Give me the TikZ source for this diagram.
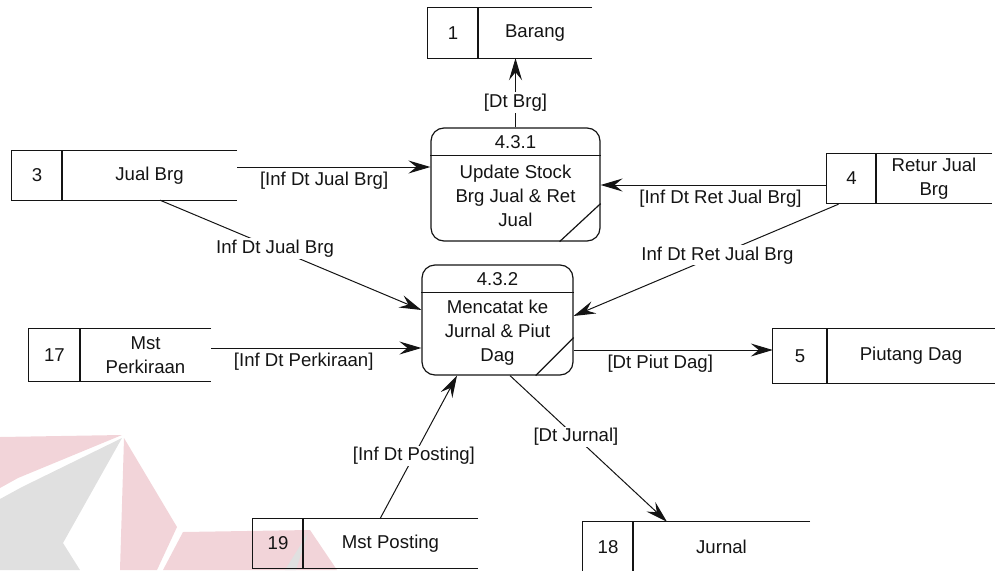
\documentclass[tikz,border=0pt]{standalone}
\usepackage{fontspec}
\setmainfont{Liberation Sans}
\usetikzlibrary{arrows.meta,calc}

\definecolor{wmpink}{RGB}{242,212,217}
\definecolor{wmgray}{RGB}{224,224,224}
\definecolor{ink}{RGB}{20,20,20}

\tikzset{
  every node/.style={font=\fontsize{18.6}{24}\selectfont, text=ink},
  shapeline/.style={draw=ink, line width=1.2pt},
  proc/.style={shapeline, rounded corners=13pt, inner sep=0pt},
  flow/.style={draw=ink, line width=1pt, -{Stealth[length=22pt,width=13pt,inset=8pt]}},
  flowlabel/.style={fill=white, inner sep=1.5pt},
  storearea/.style={inner sep=0pt, draw=none},
}

% data store: name, x-left, x-divider, x-right, y-top, y-bottom, number, label
\newcommand\datastore[8]{%
  \node[storearea, minimum width={(#4)-(#2)}, minimum height={(#6)-(#5)}]
    (#1) at ({((#2)+(#4))/2},{((#5)+(#6))/2}) {};
  \draw[shapeline] (#1.north east) -- (#1.north west) -- (#1.south west) -- (#1.south east);
  \draw[shapeline] (#3,#5) -- (#3,#6);
  \node (#1-num) at ({((#2)+(#3))/2},{((#5)+(#6))/2}) {#7};
  \node[align=center] (#1-name) at ({((#3)+(#4))/2},{((#5)+(#6))/2}) {#8};
}

\begin{document}
\begin{tikzpicture}[x=1pt,y=-1pt]
\useasboundingbox (0,0) rectangle (995,570);

% faint logo in the lower left corner
\fill[wmpink] (0,437) -- (122,435) -- (18,478) -- (0,488) -- cycle;
\fill[wmgray] (122,438) -- (22,487) -- (0,499) -- (0,570) -- (80,570) -- (63,543) -- cycle;
\fill[wmpink] (124,438) -- (177,527) -- (157,570) -- (120,570) -- cycle;
\fill[wmpink] (183,532) -- (310,530) -- (337,570) -- (163,570) -- cycle;
\fill[wmgray] (308,533) -- (296,570) -- (285,570) -- cycle;

% data stores
\datastore{barang}{428}{478}{592}{8}{58}{1}{Barang}
\datastore{jual}{12}{62}{237}{151}{200}{3}{Jual Brg}
\datastore{retur}{827}{876}{992}{154}{203}{4}{Retur Jual\\Brg}
\datastore{perk}{29}{80}{211}{329}{381}{17}{Mst\\Perkiraan}
\datastore{piutang}{773}{827}{995}{329}{383}{5}{Piutang Dag}
\datastore{posting}{253}{303}{478}{519}{568}{19}{Mst Posting}
\datastore{jurnal}{583}{633}{810}{522}{572}{18}{Jurnal}

% process 4.3.1
\node[proc, minimum width=169pt, minimum height=113pt] (p1) at (515.5,184.5) {};
\draw[shapeline] ([yshift=-28pt]p1.north west) -- ([yshift=-28pt]p1.north east);
\draw[shapeline] ([xshift=-41pt]p1.south east) -- ([yshift=38pt]p1.south east);
\node (p1-id) at (515.5,142) {4.3.1};
\node[align=center] (p1-name) at (515.5,196) {Update Stock\\Brg Jual \& Ret\\Jual};

% process 4.3.2
\node[proc, minimum width=151pt, minimum height=110pt] (p2) at (497.5,320) {};
\draw[shapeline] ([yshift=-28pt]p2.north west) -- ([yshift=-28pt]p2.north east);
\draw[shapeline] ([xshift=-38pt]p2.south east) -- ([yshift=38pt]p2.south east);
\node (p2-id) at (497.5,279) {4.3.2};
\node[align=center] (p2-name) at (497.5,333) {Mencatat ke\\Jurnal \& Piut\\Dag};

% data flows
\draw[flow] (p1.north) -- (p1.north |- barang.south)
  node[flowlabel, pos=0.36] {[Dt Brg]};

\coordinate (j1) at ([yshift=8.5pt]jual.east);
\draw[flow] (j1) -- (j1 -| p1.west)
  node[pos=0.45, below=1pt] {[Inf Dt Jual Brg]};

\coordinate (r1) at ([yshift=-6.5pt]retur.west);
\draw[flow] (r1) -- (r1 -| p1.east)
  node[pos=0.47, below=1pt] {[Inf Dt Ret Jual Brg]};

\draw[flow] ([xshift=35.5pt]jual.south) -- ([yshift=10pt]p2.west)
  node[flowlabel, pos=0.44] {Inf Dt Jual Brg};

\draw[flow] ([xshift=-71pt,yshift=-1pt]retur.south) -- ([yshift=4pt]p2.east)
  node[flowlabel, pos=0.457] {Inf Dt Ret Jual Brg};

\coordinate (k1) at ([yshift=7pt]perk.east);
\draw[flow] (k1) -- (k1 -| p2.west)
  node[pos=0.44, below=1pt] {[Inf Dt Perkiraan]};

\coordinate (d1) at ([yshift=-30pt]p2.east);
\draw[flow] (d1) -- (d1 -| piutang.west)
  node[pos=0.435, below=1pt] {[Dt Piut Dag]};

\draw[flow] ([xshift=14.5pt]posting.north) -- ([xshift=-40.5pt]p2.south)
  node[flowlabel, pos=0.44] {[Inf Dt Posting]};

\draw[flow] ([xshift=12.5pt]p2.south) -- ([xshift=-29.5pt]jurnal.north)
  node[flowlabel, pos=0.42] {[Dt Jurnal]};
\end{tikzpicture}
\end{document}
